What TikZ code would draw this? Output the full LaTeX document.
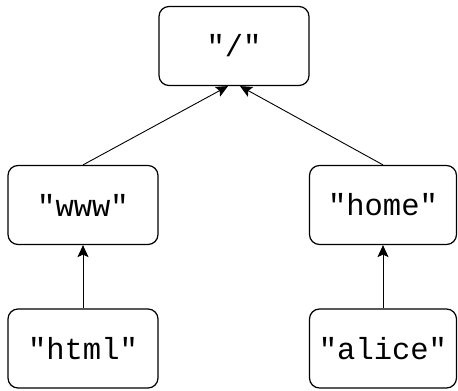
\documentclass[tikz,border=0pt]{standalone}
\usepackage{fontspec}
\setmonofont{Liberation Mono}
\usepackage{tikz}
\usetikzlibrary{arrows.meta}

\tikzset{
  dirbox/.style={draw, rounded corners=10pt, line width=1.2pt, fill=white,
    minimum width=150pt, minimum height=79pt, inner sep=0pt,
    font=\ttfamily\fontsize{30.5}{36}\selectfont},
  link/.style={-{Stealth[length=12pt,width=11pt,inset=2.5pt]}, line width=0.9pt}
}

\begin{document}
\begin{tikzpicture}[x=1pt, y=1pt]
\useasboundingbox (0,0) rectangle (458,391);

\node[dirbox] (root) at (234,345) {"/"};

\node[dirbox] (www) at (83,186) {"www"};
\node[dirbox, minimum width=147pt] (home) at (383,186) {"home"};

\node[dirbox] (html) at (83,42.5) {"html"};
\node[dirbox, minimum width=147pt] (alice) at (383,42.5) {"alice"};

\coordinate (rootl) at ([xshift=-6pt]root.south);
\coordinate (rootr) at ([xshift=6pt]root.south);

\draw[link] (www.north) -- (rootl);
\draw[link] (home.north) -- (rootr);

\draw[link] (html.north) -- (www.south);
\draw[link] (alice.north) -- (home.south);
\end{tikzpicture}
\end{document}
